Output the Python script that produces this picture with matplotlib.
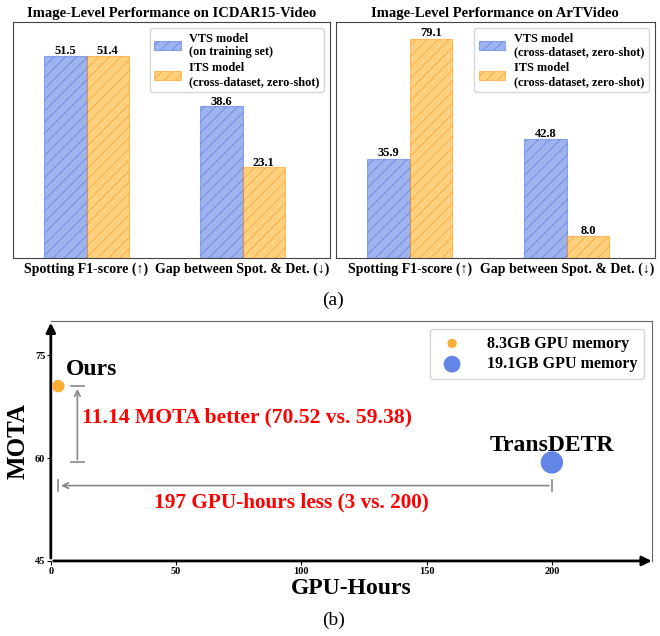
import numpy as np
import matplotlib.pyplot as plt

plt.rcParams['font.family'] = ['Liberation Serif', 'DejaVu Serif']
plt.rcParams['hatch.linewidth'] = 0.7

# (a) image-level performance
metrics = ["Spotting F1-score (↑)", "Gap between Spot. & Det. (↓)"]
icdar_vts = [51.5, 38.6]
icdar_its = [51.4, 23.1]
artv_vts = [35.9, 42.8]
artv_its = [79.1, 8.0]

panels = [
    ("Image-Level Performance on ICDAR15-Video", icdar_vts, icdar_its,
     "VTS model\n(on training set)", "ITS model\n(cross-dataset, zero-shot)", 60),
    ("Image-Level Performance on ArTVideo", artv_vts, artv_its,
     "VTS model\n(cross-dataset, zero-shot)", "ITS model\n(cross-dataset, zero-shot)", 85),
]

# (b) MOTA vs training cost
methods = ["Ours", "TransDETR"]
gpu_hours = [3, 200]
mota = [70.52, 59.38]
mem_labels = ["8.3GB GPU memory", "19.1GB GPU memory"]

fig = plt.figure(figsize=(6.6, 6.36), dpi=100)

ax_pos = [[0.020, 0.594, 0.480, 0.371], [0.509, 0.594, 0.483, 0.371]]
x = np.arange(len(metrics))
w = 0.27
for pos, (title, vts, its, lab1, lab2, ymax) in zip(ax_pos, panels):
    ax = fig.add_axes(pos)
    b1 = ax.bar(x - w / 2, vts, w, color='royalblue', alpha=0.5,
                edgecolor='royalblue', hatch='///', linewidth=0.8, label=lab1)
    b2 = ax.bar(x + w / 2, its, w, color='orange', alpha=0.5,
                edgecolor='darkorange', hatch='///', linewidth=0.8, label=lab2)
    for bars in (b1, b2):
        for b in bars:
            ax.text(b.get_x() + b.get_width() / 2, b.get_height() - 0.3,
                    f"{b.get_height():.1f}", ha='center', va='bottom',
                    fontsize=9, fontweight='bold')
    ax.set_xlim(-0.47, 1.56)
    ax.set_ylim(0, ymax)
    ax.set_yticks([])
    ax.set_xticks(x)
    ax.set_xticklabels(metrics, fontsize=10, fontweight='bold')
    ax.tick_params(axis='x', length=0, pad=3)
    ax.set_title(title, fontsize=10.5, fontweight='bold', pad=4)
    for s in ax.spines.values():
        s.set_color('#444444')
    ax.legend(loc='upper right', prop={'weight': 'bold', 'size': 8.8},
              handlelength=2.2, borderpad=0.35, labelspacing=0.3,
              handletextpad=0.7)

fig.text(0.505, 0.528, "(a)", ha='center', va='center', fontsize=14)

ax = fig.add_axes([0.077, 0.118, 0.911, 0.377])
colors = ['#fbae34', '#6285e6']
sizes = [80, 260]
for i in range(2):
    ax.scatter(gpu_hours[i], mota[i], s=sizes[i], color=colors[i],
               label=mem_labels[i], zorder=5, edgecolors='none')
ax.text(gpu_hours[0] + 3, mota[0] + 0.9, methods[0], fontsize=17,
        fontweight='bold', ha='left', va='bottom')
ax.text(gpu_hours[1], mota[1] + 1.0, methods[1], fontsize=17,
        fontweight='bold', ha='center', va='bottom')

gray = '#888888'
xv = 10.6
ax.annotate("", xy=(xv, mota[0]), xytext=(xv, mota[1]),
            arrowprops=dict(arrowstyle='->', color=gray, lw=1.2))
ax.plot([xv - 2.6, xv + 2.6], [mota[0], mota[0]], color=gray, lw=1.2)
ax.plot([xv - 2.6, xv + 2.6], [mota[1], mota[1]], color=gray, lw=1.2)
ax.text(12.4, 65.9, f"{mota[0] - mota[1]:.2f} MOTA better ({mota[0]:.2f} vs. {mota[1]:.2f})",
        color='red', fontsize=15.6, fontweight='bold', va='center', ha='left')

yh = 56
ax.annotate("", xy=(gpu_hours[0], yh), xytext=(gpu_hours[1], yh),
            arrowprops=dict(arrowstyle='->', color=gray, lw=1.2))
ax.plot([gpu_hours[0]] * 2, [yh - 0.8, yh + 0.8], color=gray, lw=1.2)
ax.plot([gpu_hours[1]] * 2, [yh - 0.8, yh + 0.8], color=gray, lw=1.2)
ax.text(96, 53.6, f"{gpu_hours[1] - gpu_hours[0]} GPU-hours less ({gpu_hours[0]} vs. {gpu_hours[1]})",
        color='red', fontsize=15.3, fontweight='bold', va='center', ha='center')

ax.set_xlim(0, 240)
ax.set_ylim(45, 80)
ax.set_xticks([0, 50, 100, 150, 200])
ax.set_yticks([45, 60, 75])
ax.tick_params(labelsize=7.5, length=3, pad=1)
for lbl in ax.get_xticklabels() + ax.get_yticklabels():
    lbl.set_fontweight('bold')
ax.set_xlabel("GPU-Hours", fontsize=17, fontweight='bold', labelpad=2)
ax.set_ylabel("MOTA", fontsize=18, fontweight='bold', labelpad=4)
for side in ('top', 'right'):
    ax.spines[side].set_color('#666666')
    ax.spines[side].set_linewidth(0.8)
ax.spines['left'].set_visible(False)
ax.spines['bottom'].set_visible(False)
ax.annotate("", xy=(1.004, 0), xytext=(0, 0), xycoords='axes fraction',
            arrowprops=dict(arrowstyle='-|>', color='black', lw=2, mutation_scale=14))
ax.annotate("", xy=(0, 1.005), xytext=(0, 0), xycoords='axes fraction',
            arrowprops=dict(arrowstyle='-|>', color='black', lw=2, mutation_scale=14))
ax.legend(loc='upper right', prop={'weight': 'bold', 'size': 11.5},
          markerscale=0.75, handletextpad=1.2, borderpad=0.4, labelspacing=0.3)

fig.text(0.505, 0.025, "(b)", ha='center', va='center', fontsize=14)

fig.savefig("out.png", dpi=100)
